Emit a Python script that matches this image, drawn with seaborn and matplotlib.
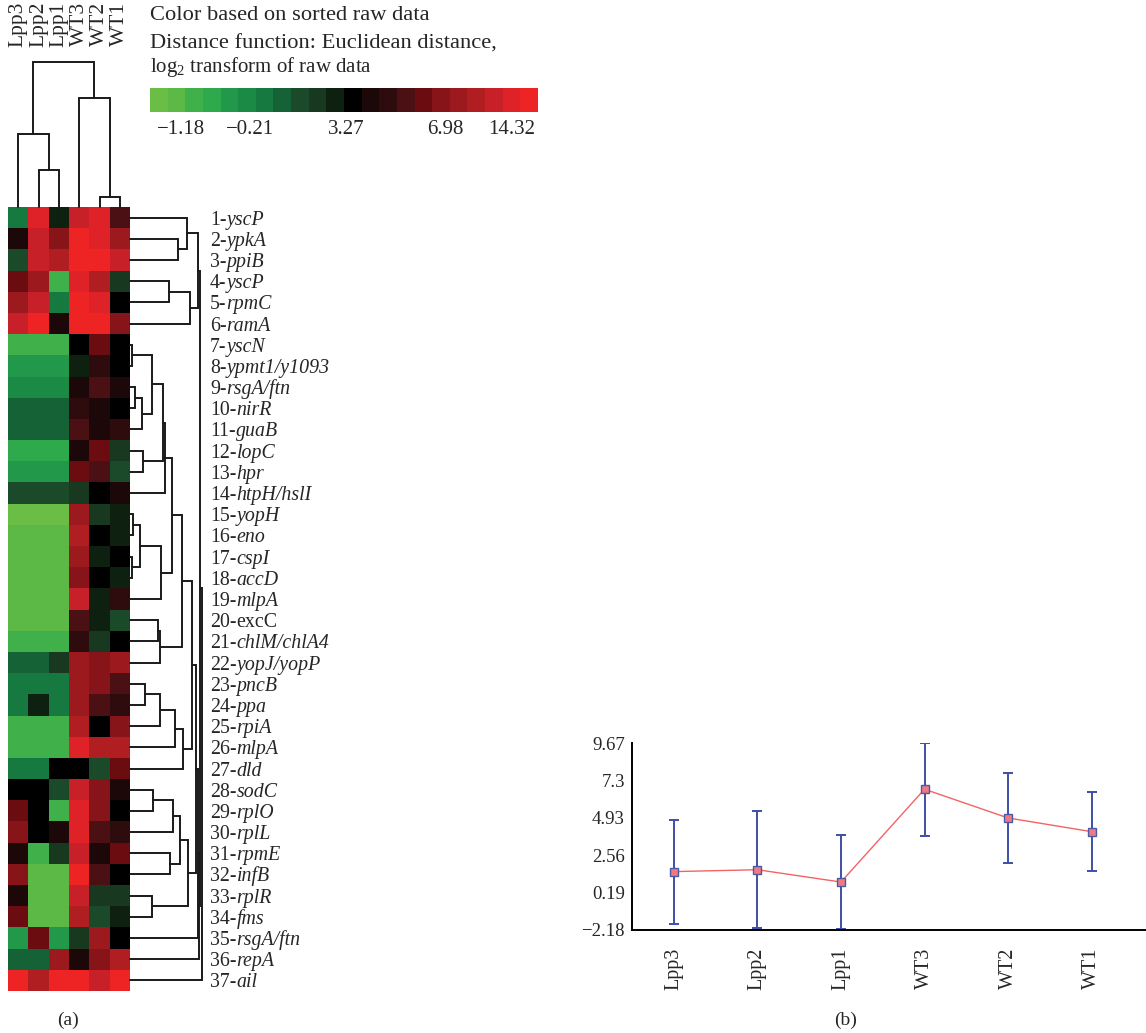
import numpy as np
import pandas as pd
import seaborn as sns
import matplotlib.pyplot as plt
from matplotlib.colors import ListedColormap
from matplotlib.transforms import blended_transform_factory

# ---- data -----------------------------------------------------------------
samples = ["Lpp3", "Lpp2", "Lpp1", "WT3", "WT2", "WT1"]

genes = ["yscP", "ypkA", "ppiB", "yscP", "rpmC", "ramA", "yscN", "ypmt1/y1093",
         "rsgA/ftn", "nirR", "guaB", "lopC", "hpr", "htpH/hslI", "yopH", "eno",
         "cspI", "accD", "mlpA", "excC", "chlM/chlA4", "yopJ/yopP", "pncB", "ppa",
         "rpiA", "mlpA", "dld", "sodC", "rplO", "rplL", "rpmE", "infB", "rplR",
         "fms", "rsgA/ftn", "repA", "ail"]
upright_genes = ["excC"]

# colour level of each cell on the 22-step scale (0 = brightest green, 21 = brightest red)
color_level = [
    [6, 20, 10, 19, 20, 14],
    [12, 19, 16, 21, 20, 17],
    [8, 19, 18, 21, 21, 19],
    [15, 17, 2, 20, 18, 9],
    [17, 19, 6, 21, 20, 11],
    [19, 21, 12, 21, 21, 16],
    [2, 2, 2, 11, 15, 11],
    [4, 4, 4, 10, 13, 11],
    [5, 5, 5, 12, 14, 12],
    [7, 7, 7, 13, 12, 11],
    [7, 7, 7, 14, 12, 13],
    [3, 3, 3, 12, 15, 9],
    [4, 4, 4, 15, 14, 8],
    [8, 8, 8, 9, 11, 12],
    [0, 0, 0, 17, 9, 10],
    [1, 1, 1, 18, 11, 10],
    [1, 1, 1, 17, 10, 11],
    [1, 1, 1, 16, 11, 10],
    [1, 1, 1, 19, 10, 13],
    [1, 1, 1, 14, 10, 8],
    [2, 2, 2, 13, 9, 11],
    [7, 7, 9, 17, 16, 17],
    [6, 6, 6, 17, 16, 14],
    [6, 10, 6, 17, 14, 13],
    [2, 2, 2, 18, 11, 16],
    [2, 2, 2, 20, 18, 18],
    [6, 6, 11, 11, 8, 15],
    [11, 11, 8, 19, 16, 12],
    [15, 11, 2, 20, 16, 11],
    [16, 11, 12, 20, 14, 13],
    [12, 2, 9, 19, 12, 15],
    [16, 1, 1, 21, 14, 11],
    [12, 1, 1, 19, 9, 9],
    [15, 1, 1, 18, 8, 10],
    [4, 15, 4, 9, 17, 11],
    [7, 7, 17, 12, 16, 18],
    [21, 18, 21, 21, 19, 21],
]

palette = ["#6abd45", "#5cb946", "#3fb04a", "#2eaa4c", "#22984a", "#1a8a45",
           "#167a40", "#146236", "#1a4a2a", "#183820", "#0e2010", "#000000",
           "#1c0808", "#2e0c0e", "#4a1014", "#6a0c10", "#861418", "#9c1a1e",
           "#b01e22", "#c82028", "#de2228", "#ee2424"]

cbar_labels = ["\u22121.18", "\u22120.21", "3.27", "6.98", "14.32"]
cbar_label_frac = [0.079, 0.258, 0.506, 0.76, 0.933]

# row dendrogram: (child a, child b, height); leaves 0..36, merge k -> node 37+k
row_merges = [
    (1, 2, 48), (0, 37, 57), (3, 4, 39), (39, 5, 60), (38, 40, 68),
    (6, 7, 2), (8, 9, 5), (43, 10, 12), (42, 44, 22), (11, 12, 13),
    (45, 46, 33), (47, 13, 35),
    (14, 15, 3), (16, 17, 2), (49, 50, 10), (51, 18, 31), (48, 52, 42),
    (19, 20, 28), (54, 21, 30), (53, 55, 52),
    (22, 23, 15), (57, 24, 30), (58, 25, 45), (59, 26, 53), (56, 60, 62),
    (27, 28, 23), (62, 29, 43), (30, 31, 40), (63, 64, 50), (32, 33, 22),
    (65, 66, 58), (61, 67, 66), (68, 34, 68), (69, 35, 69), (41, 70, 70),
    (71, 36, 72),
]
# column dendrogram: leaves 0..5, merge k -> node 6+k
col_merges = [(1, 2, 37), (0, 6, 73), (4, 5, 10), (3, 8, 109), (7, 9, 145)]

mean_expr = [1.52, 1.64, 0.86, 6.74, 4.92, 4.05]
sd_expr = [3.3, 3.7, 3.0, 2.94, 2.85, 2.52]
y_ticks = [-2.18, 0.19, 2.56, 4.93, 7.3, 9.67]
y_ticklabels = ["\u22122.18", "0.19", "2.56", "4.93", "7.3", "9.67"]


def dendro_lines(merges, n_leaves):
    pos = {i: i + 0.5 for i in range(n_leaves)}
    hgt = {i: 0.0 for i in range(n_leaves)}
    segs = []
    for k, (a, b, h) in enumerate(merges):
        segs.append(([pos[a], pos[a], pos[b], pos[b]], [hgt[a], h, h, hgt[b]]))
        pos[n_leaves + k] = (pos[a] + pos[b]) / 2
        hgt[n_leaves + k] = h
    return segs


sns.set_style("white")
plt.rcParams["font.family"] = ["Liberation Serif", "DejaVu Serif"]
plt.rcParams["mathtext.fontset"] = "custom"
plt.rcParams["mathtext.rm"] = "Liberation Serif"
plt.rcParams["mathtext.it"] = "Liberation Serif:italic"

W, H = 1146, 1033
fig = plt.figure(figsize=(W / 100, H / 100), dpi=100)
fig.patch.set_facecolor("white")

ax_heat = fig.add_axes([8 / W, 1 - 991 / H, 122 / W, 784 / H])
ax_rowd = fig.add_axes([130 / W, 1 - 991 / H, 75 / W, 784 / H])
ax_cold = fig.add_axes([8 / W, 1 - 207 / H, 122 / W, 145 / H])
ax_cb = fig.add_axes([150 / W, 1 - 112 / H, 388 / W, 24 / H])
ax_line = fig.add_axes([632 / W, 1 - 930 / H, 514 / W, 187 / H])

# ---- heatmap ----------------------------------------------------------------
row_index = [f"{i + 1}-{g}" for i, g in enumerate(genes)]
df = pd.DataFrame(color_level, index=row_index, columns=samples)
n_col = len(palette)
sns.heatmap(df, ax=ax_heat, cmap=ListedColormap(palette), vmin=-0.5, vmax=n_col - 0.5,
            xticklabels=False, yticklabels=False, cbar_ax=ax_cb,
            cbar_kws={"orientation": "horizontal"})
ax_heat.set_xlabel("")
ax_heat.set_ylabel("")

cb = ax_heat.collections[0].colorbar
cb.outline.set_visible(False)
cb.set_ticks([-0.5 + n_col * f for f in cbar_label_frac])
cb.set_ticklabels(cbar_labels)
ax_cb.tick_params(length=0, pad=6, labelsize=15)

# ---- dendrograms ------------------------------------------------------------
lc = "#1a1a1a"
for xs, ys in dendro_lines(row_merges, len(genes)):
    ax_rowd.plot(ys, xs, color=lc, lw=1.4, clip_on=False, solid_joinstyle="miter")
ax_rowd.set_xlim(0, 75)
ax_rowd.set_ylim(len(genes), 0)
ax_rowd.axis("off")

# row labels: number upright, gene name italic (except upright_genes)
lab_tr = blended_transform_factory(fig.transFigure, ax_rowd.transData)
for i, g in enumerate(genes):
    t_num = ax_rowd.text(210 / W, i + 0.5, f"{i + 1}-", transform=lab_tr,
                         fontsize=14.3, va="center_baseline", ha="left")
    ax_rowd.annotate(g, xy=(1, 0), xycoords=t_num, va="bottom", ha="left",
                     fontsize=14.3, style="normal" if g in upright_genes else "italic")

for xs, ys in dendro_lines(col_merges, len(samples)):
    ax_cold.plot(xs, ys, color=lc, lw=1.4, clip_on=False, solid_joinstyle="miter")
ax_cold.set_xlim(0, len(samples))
ax_cold.set_ylim(0, 145)
ax_cold.axis("off")

tr = blended_transform_factory(ax_heat.transData, fig.transFigure)
for i, s in enumerate(samples):
    fig.text(i + 0.5, 1 - 2 / H, s, transform=tr, rotation=90, ha="center", va="top",
             fontsize=15.5)

fig.text(150 / W, 1 - 15 / H, "Color based on sorted raw data", fontsize=16.2,
         va="center")
fig.text(150 / W, 1 - 44 / H, "Distance function: Euclidean distance,", fontsize=16.2,
         va="center")
fig.text(150 / W, 1 - 67 / H, "log$_2$ transform of raw data", fontsize=15,
         va="center")

# ---- line chart -------------------------------------------------------------
ax_line.errorbar(samples, mean_expr, yerr=sd_expr, fmt="none", ecolor="#3d4fa6",
                 elinewidth=1.4, capsize=3.7, capthick=1.4, zorder=2)
sns.lineplot(x=samples, y=mean_expr, ax=ax_line, sort=False, color="#f26464", lw=1,
             marker="s", markersize=5.5, markerfacecolor="#f07a84",
             markeredgecolor="#4a5aa8", markeredgewidth=1, zorder=3)
ax_line.set_ylim(-2.18, 9.67)
ax_line.set_xlim(-0.5, 5.65)
ax_line.set_yticks(y_ticks, labels=y_ticklabels)
ax_line.set_xticks(np.arange(-0.5, 5, 1.0), labels=[""] * 6)
ax_line.set_xticks(np.arange(6), labels=samples, minor=True)
ax_line.tick_params(axis="x", which="major", direction="out", length=4.3, width=1.2,
                    color="black")
ax_line.tick_params(axis="x", which="minor", length=0, pad=13, labelsize=14.5,
                    labelrotation=90)
ax_line.tick_params(axis="y", direction="out", length=3.6, width=1.2, color="black",
                    pad=1.5, labelsize=13.5)
for side in ["top", "right"]:
    ax_line.spines[side].set_visible(False)
for side in ["left", "bottom"]:
    ax_line.spines[side].set_color("black")
    ax_line.spines[side].set_linewidth(1.4)
ax_line.spines["bottom"].set_clip_on(False)

fig.text(68 / W, 1 - 1020 / H, "(a)", fontsize=14, ha="center", va="center")
fig.text(846 / W, 1 - 1020 / H, "(b)", fontsize=14, ha="center", va="center")

fig.savefig("out.png", dpi=100, facecolor="white")
